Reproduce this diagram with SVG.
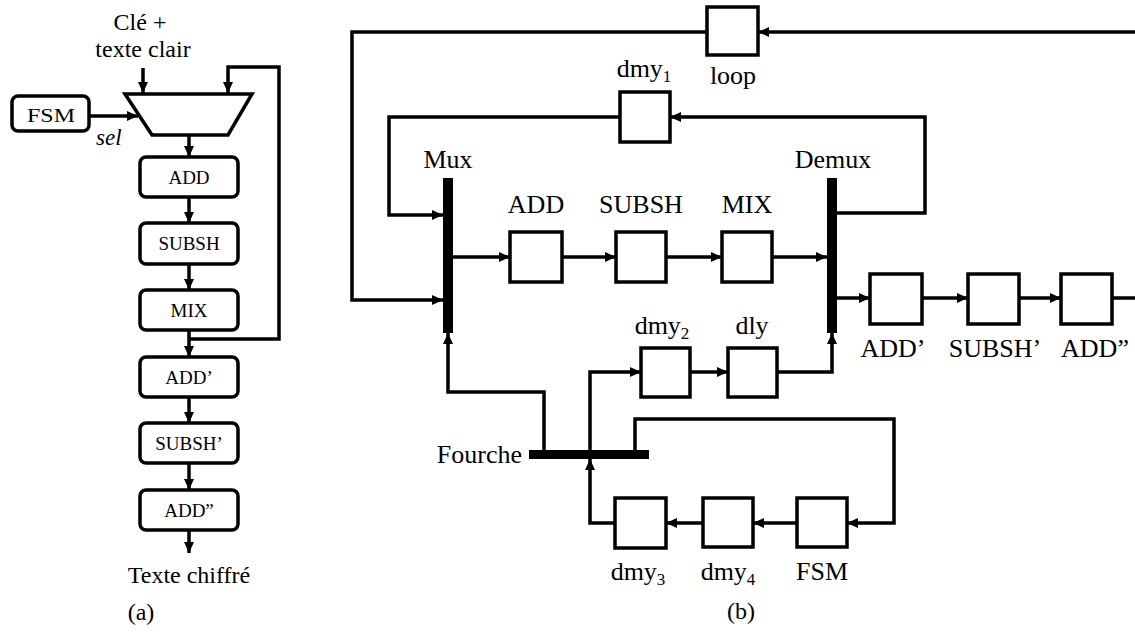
<svg xmlns="http://www.w3.org/2000/svg" width="1135" height="632" viewBox="0 0 1135 632">
<style>
  .ln{fill:none;stroke:#000;stroke-width:3.5;stroke-linejoin:miter}
  .bx{fill:#fff;stroke:#000;stroke-width:3.5}
  .rb{fill:#fff;stroke:#000;stroke-width:3.5}
  .bar{fill:#000}
  .t{font-size:26px;text-anchor:middle}
  .s{font-size:19px;text-anchor:middle}
  .m{font-size:24px;text-anchor:middle}
</style>
<defs>
  <marker id="ar" markerUnits="userSpaceOnUse" markerWidth="11" markerHeight="10" refX="11" refY="5" orient="auto">
    <path d="M0,0 L11,5 L0,10 z" fill="#000"/>
  </marker>
</defs>
<rect width="1135" height="632" fill="#fff"/>

<!-- Panel (a) connectors -->
<g id="connectors-a" class="ln" marker-end="url(#ar)">
  <path d="M143,68 L143,93"/>
  <path d="M189,339 L279,339 L279,67 L228,67 L228,93"/>
  <path d="M89,116 L138,116"/>
  <path d="M189,135 L189,157"/>
  <path d="M189,197 L189,223"/>
  <path d="M189,264 L189,290"/>
  <path d="M189,330 L189,357"/>
  <path d="M189,397 L189,423"/>
  <path d="M189,463 L189,490"/>
  <path d="M189,530 L189,553"/>
</g>

<g font-family="Liberation Serif">
<g id="a-mux"><polygon class="bx" points="125,94 252,94 228,135 152,135"/></g>
<g id="a-fsm"><rect class="rb" x="12" y="96" width="77" height="35" rx="6"/><text class="s" x="51" y="122" font-size="21" textLength="48" lengthAdjust="spacingAndGlyphs">FSM</text></g>
<g id="a-add"><rect class="rb" x="140" y="157" width="98" height="40" rx="6"/><text class="s" x="189" y="184">ADD</text></g>
<g id="a-subsh"><rect class="rb" x="140" y="223" width="98" height="41" rx="6"/><text class="s" x="189" y="250">SUBSH</text></g>
<g id="a-mix"><rect class="rb" x="140" y="290" width="98" height="40" rx="6"/><text class="s" x="189" y="317">MIX</text></g>
<g id="a-add1"><rect class="rb" x="140" y="357" width="98" height="40" rx="6"/><text class="s" x="189" y="384">ADD’</text></g>
<g id="a-subsh1"><rect class="rb" x="140" y="423" width="98" height="40" rx="6"/><text class="s" x="189" y="450">SUBSH’</text></g>
<g id="a-add2"><rect class="rb" x="140" y="490" width="98" height="40" rx="6"/><text class="s" x="189" y="517">ADD”</text></g>

<g id="a-labels">
  <text class="m" x="140" y="30">Clé +</text>
  <text class="m" x="143" y="57">texte clair</text>
  <text x="96" y="145" font-size="23" font-style="italic">sel</text>
  <text class="m" x="189" y="583">Texte chiffré</text>
  <text class="m" x="141" y="620">(a)</text>
</g>
</g>

<!-- Panel (b) connectors -->
<g id="connectors-b" class="ln">
  <path d="M1135,32 L758,32" marker-end="url(#ar)"/>
  <path d="M707,32 L352,32 L352,300 L443,300" marker-end="url(#ar)"/>
  <path d="M837,213 L925,213 L925,117 L670,117" marker-end="url(#ar)"/>
  <path d="M620,117 L389,117 L389,215 L443,215" marker-end="url(#ar)"/>
  <path d="M453,257 L510,257" marker-end="url(#ar)"/>
  <path d="M562,257 L616,257" marker-end="url(#ar)"/>
  <path d="M666,257 L722,257" marker-end="url(#ar)"/>
  <path d="M772,257 L827,257" marker-end="url(#ar)"/>
  <path d="M837,298 L870,298" marker-end="url(#ar)"/>
  <path d="M922,298 L968,298" marker-end="url(#ar)"/>
  <path d="M1019,298 L1061,298" marker-end="url(#ar)"/>
  <path d="M1112,298 L1135,298"/>
  <path d="M777,372 L832,372 L832,333" marker-end="url(#ar)"/>
  <path d="M690,372 L728,372" marker-end="url(#ar)"/>
  <path d="M590,450 L590,372 L641,372" marker-end="url(#ar)"/>
  <path d="M544,450 L544,392 L448,392 L448,333" marker-end="url(#ar)"/>
  <path d="M635,450 L635,419 L894,419 L894,523 L847,523" marker-end="url(#ar)"/>
  <path d="M797,523 L753,523" marker-end="url(#ar)"/>
  <path d="M703,523 L666,523" marker-end="url(#ar)"/>
  <path d="M615,523 L590,523 L590,459" marker-end="url(#ar)"/>
</g>

<g font-family="Liberation Serif">
<g id="b-loop"><rect class="bx" x="707" y="7" width="51" height="48"/><text class="t" x="733" y="84">loop</text></g>
<g id="b-dmy1"><rect class="bx" x="620" y="92" width="50" height="50"/><text class="t" x="644" y="77">dmy<tspan font-size="17" dy="5">1</tspan></text></g>
<g id="b-mux"><rect class="bar" x="443" y="178" width="10" height="155"/><text class="t" x="448" y="168">Mux</text></g>
<g id="b-demux"><rect class="bar" x="827" y="178" width="10" height="155"/><text class="t" x="833" y="168">Demux</text></g>
<g id="b-add"><rect class="bx" x="510" y="232" width="52" height="50"/><text class="t" x="536" y="213">ADD</text></g>
<g id="b-subsh"><rect class="bx" x="616" y="232" width="50" height="50"/><text class="t" x="641" y="213">SUBSH</text></g>
<g id="b-mix"><rect class="bx" x="722" y="232" width="50" height="50"/><text class="t" x="747" y="213">MIX</text></g>
<g id="b-add1"><rect class="bx" x="870" y="274" width="52" height="50"/><text class="t" x="893" y="357">ADD’</text></g>
<g id="b-subsh1"><rect class="bx" x="968" y="274" width="51" height="50"/><text class="t" x="995" y="357">SUBSH’</text></g>
<g id="b-add2"><rect class="bx" x="1061" y="274" width="51" height="50"/><text class="t" x="1095" y="357">ADD”</text></g>
<g id="b-dmy2"><rect class="bx" x="641" y="348" width="49" height="49"/><text class="t" x="662" y="334">dmy<tspan font-size="17" dy="5">2</tspan></text></g>
<g id="b-dly"><rect class="bx" x="728" y="348" width="49" height="49"/><text class="t" x="752" y="334">dly</text></g>
<g id="b-fourche"><rect class="bar" x="529" y="450" width="120" height="9"/><text x="522" y="463" font-size="26" text-anchor="end">Fourche</text></g>
<g id="b-dmy3"><rect class="bx" x="615" y="498" width="51" height="50"/><text class="t" x="638" y="580">dmy<tspan font-size="17" dy="5">3</tspan></text></g>
<g id="b-dmy4"><rect class="bx" x="703" y="498" width="50" height="49"/><text class="t" x="728" y="580">dmy<tspan font-size="17" dy="5">4</tspan></text></g>
<g id="b-fsm"><rect class="bx" x="797" y="498" width="50" height="49"/><text class="t" x="822" y="580">FSM</text></g>
<g id="b-caption"><text class="m" x="741" y="619">(b)</text></g>
</g>
</svg>
